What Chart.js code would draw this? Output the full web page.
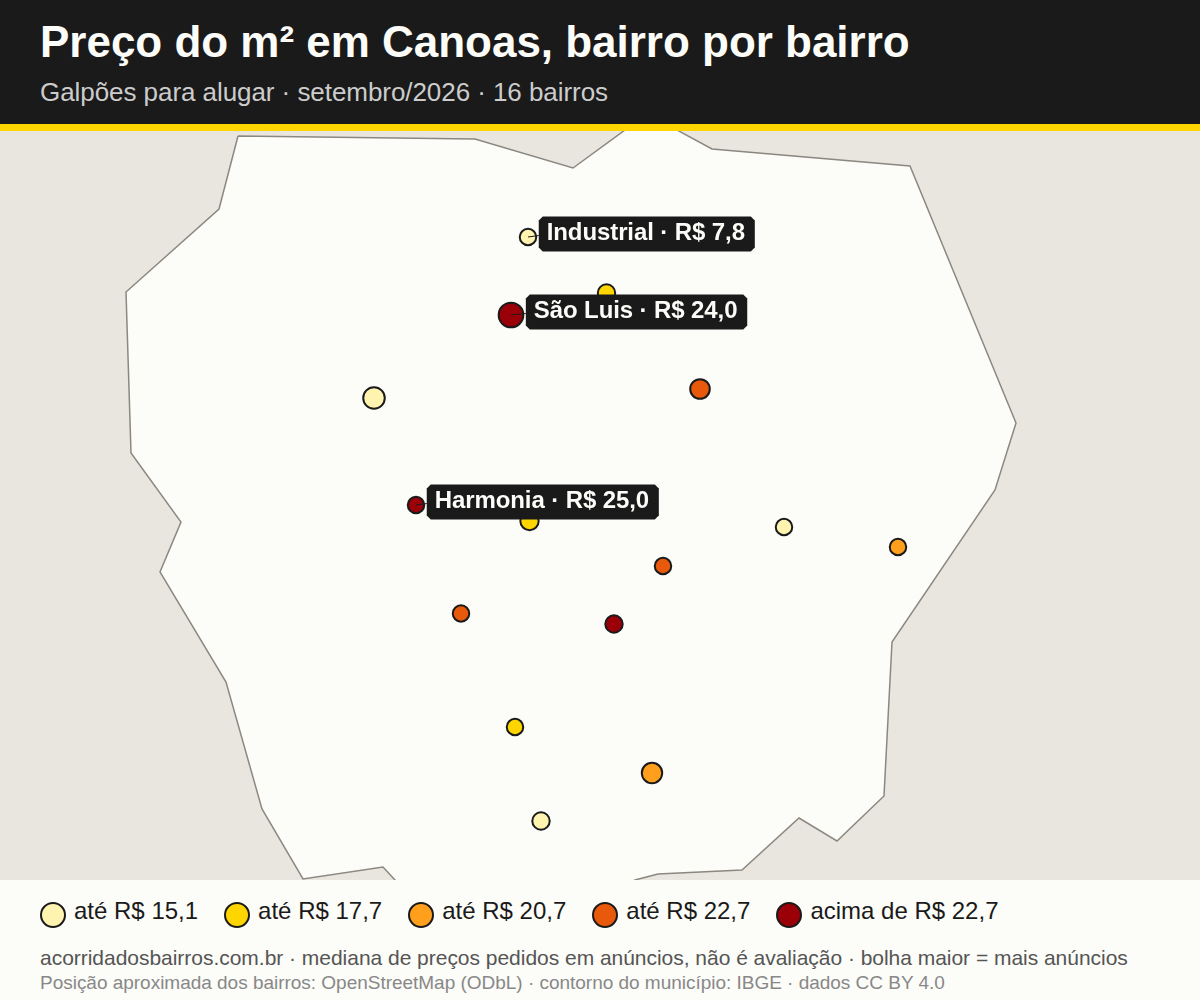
<!DOCTYPE html>
<html lang="pt-BR">
<head>
<meta charset="utf-8">
<title>Preço do m² em Canoas</title>
<script src="https://cdn.jsdelivr.net/npm/chart.js@4/dist/chart.umd.min.js"></script>
<style>
  html, body { margin: 0; padding: 0; }
  body { width: 1200px; height: 1000px; position: relative; overflow: hidden; background: #fcfcf8; font-family: "Liberation Sans", Arial, sans-serif; }
  header { position: absolute; left: 0; top: 0; width: 1200px; height: 124px; background: #1a1a1a; border-bottom: 7px solid #ffd500; }
  h1 { position: absolute; left: 40px; top: 17px; margin: 0; font-size: 44px; line-height: 50px; font-weight: 700; color: #fcfcf8; white-space: nowrap; letter-spacing: -0.02px; }
  .sub { position: absolute; left: 40px; top: 77px; font-size: 26px; line-height: 30px; color: #cccccc; white-space: nowrap; letter-spacing: -0.06px; }
  #mapa { position: absolute; left: 0; top: 131px; display: block; background: #e9e6e0; }
  #legenda { position: absolute; left: 40px; top: 896px; display: flex; gap: 26px; }
  .item { display: flex; align-items: flex-start; font-size: 24px; line-height: 30px; color: #1a1a1a; white-space: nowrap; }
  .item i { display: block; width: 22px; height: 22px; margin: 6px 8px 0 0; border: 2px solid #1a1a1a; border-radius: 50%; }
  .fonte { position: absolute; left: 40px; top: 946px; font-size: 21px; line-height: 24px; color: #555; white-space: nowrap; letter-spacing: -0.027px; }
  .credito { position: absolute; left: 40px; top: 971px; font-size: 19px; line-height: 24px; color: #888; white-space: nowrap; letter-spacing: -0.02px; }
</style>
</head>
<body>
<header>
  <h1>Preço do m² em Canoas, bairro por bairro</h1>
  <div class="sub">Galpões para alugar · setembro/2026 · 16 bairros</div>
</header>
<canvas id="mapa" width="1200" height="749"></canvas>
<div id="legenda"></div>
<div class="fonte">acorridadosbairros.com.br · mediana de preços pedidos em anúncios, não é avaliação · bolha maior = mais anúncios</div>
<div class="credito">Posição aproximada dos bairros: OpenStreetMap (ODbL) · contorno do município: IBGE · dados CC BY 4.0</div>

<script>
// contorno do municipio
const outlineX = [238, 475, 573, 625, 677, 712, 910, 1016, 995, 892, 884, 837, 799, 742, 658, 635, 600, 420, 395, 383, 303, 262, 226, 160, 181, 131, 126, 219, 238];
const outlineY = [136, 139, 168, 130, 130, 149, 166, 423, 490, 642, 796, 841, 818, 870, 874, 880, 900, 900, 880, 867, 879, 809, 682, 572, 522, 453, 292, 209, 136];

// bairros
const bairroNames = ['Industrial', '', 'São Luis', '', '', 'Harmonia', '', '', '', '', '', '', '', '', ''];
const bairroX = [528, 606.5, 511, 374, 700, 416, 529.5, 784, 898, 663, 461, 614, 515, 652, 541];
const bairroY = [237, 293, 315, 398, 389, 505, 521, 527, 547, 566, 613.5, 624, 727, 773, 821];
const precos = [7.8, 16.5, 24.0, 14.0, 22.0, 25.0, 16.8, 13.5, 19.5, 21.8, 22.2, 24.5, 17.0, 19.0, 14.5];
const anuncios = [17, 19, 38, 29, 24, 17, 21, 17, 17, 17, 17, 19, 17, 26, 19];

// classes de preco
const limites = [15.1, 17.7, 20.7, 22.7];
const cores = ['#fff3b0', '#ffd500', '#ff9f1c', '#e8590c', '#9b0008'];
const legendaTextos = ['até R$ 15,1', 'até R$ 17,7', 'até R$ 20,7', 'até R$ 22,7', 'acima de R$ 22,7'];

function corDoPreco(p) {
  const i = limites.findIndex(l => p <= l);
  return cores[i === -1 ? cores.length - 1 : i];
}

function raioBolha(n) {
  return Math.sqrt(n) * 2;
}

function precoTexto(p) {
  return `R$ ${p.toFixed(1).replace('.', ',')}`;
}

const legenda = document.getElementById('legenda');
legendaTextos.forEach((t, i) => {
  const item = document.createElement('div');
  item.className = 'item';
  item.innerHTML = `<i style="background:${cores[i]}"></i><span>${t}</span>`;
  legenda.appendChild(item);
});

// etiquetas pretas dos bairros destacados
const etiquetas = {
  id: 'etiquetas',
  afterDatasetsDraw(chart) {
    const { ctx, scales } = chart;
    ctx.save();
    ctx.font = '700 24px "Liberation Sans", Arial, sans-serif';
    ctx.textBaseline = 'alphabetic';
    bairroNames.forEach((nome, i) => {
      if (!nome) return;
      const px = scales.x.getPixelForValue(bairroX[i]);
      const py = scales.y.getPixelForValue(bairroY[i]);
      const texto = `${nome} · ${precoTexto(precos[i])}`;
      const left = px + raioBolha(anuncios[i]) + 2.5;
      const top = py - 20.5;
      ctx.letterSpacing = '0px';
      const w = ctx.measureText(texto).width + 16;
      const h = 35;
      const c = 4;

      ctx.strokeStyle = '#1a1a1a';
      ctx.lineWidth = 1;
      ctx.beginPath();
      ctx.moveTo(px, py);
      ctx.lineTo(left, py - 1.5);
      ctx.stroke();

      ctx.fillStyle = '#1a1a1a';
      ctx.beginPath();
      ctx.moveTo(left + c, top);
      ctx.lineTo(left + w - c, top);
      ctx.lineTo(left + w, top + c);
      ctx.lineTo(left + w, top + h - c);
      ctx.lineTo(left + w - c, top + h);
      ctx.lineTo(left + c, top + h);
      ctx.lineTo(left, top + h - c);
      ctx.lineTo(left, top + c);
      ctx.closePath();
      ctx.fill();

      ctx.fillStyle = '#fcfcf8';
      ctx.letterSpacing = '-0.1px';
      ctx.fillText(texto, left + 8, top + 23);
    });
    ctx.restore();
  }
};

new Chart(document.getElementById('mapa'), {
  type: 'bubble',
  data: {
    datasets: [
      {
        type: 'bubble',
        order: 1,
        data: bairroX.map((x, i) => ({ x, y: bairroY[i], r: raioBolha(anuncios[i]) })),
        backgroundColor: precos.map(corDoPreco),
        borderColor: '#1a1a1a',
        borderWidth: 2
      },
      {
        type: 'line',
        order: 2,
        data: outlineX.map((x, i) => ({ x, y: outlineY[i] })),
        borderColor: '#8c8880',
        borderWidth: 1.5,
        backgroundColor: '#fcfcf8',
        fill: 'shape',
        pointRadius: 0,
        tension: 0
      }
    ]
  },
  options: {
    responsive: false,
    animation: false,
    events: [],
    layout: { padding: 0, autoPadding: false },
    plugins: { legend: { display: false }, tooltip: { enabled: false } },
    scales: {
      x: { type: 'linear', display: false, min: 0, max: 1200 },
      y: { type: 'linear', display: false, min: 131, max: 880, reverse: true }
    }
  },
  plugins: [etiquetas]
});
</script>
</body>
</html>
